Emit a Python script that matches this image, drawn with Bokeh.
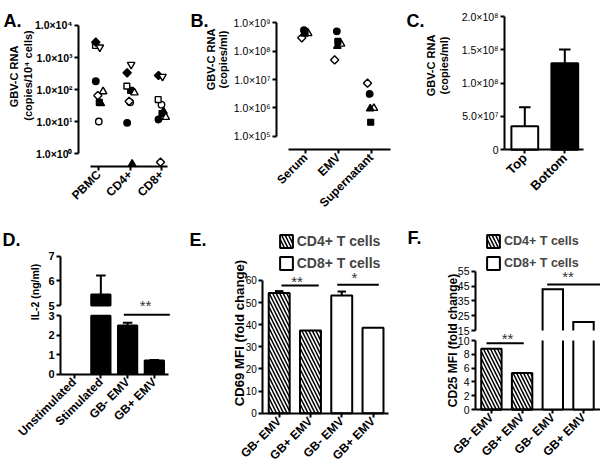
import math
from bokeh.plotting import figure
from bokeh.models import (Range1d, FixedTicker, Label, Legend, LegendItem, ColumnDataSource,
                          LinearAxis)
from bokeh.layouts import row, column
from bokeh.transform import dodge
from bokeh.embed import file_html
from bokeh.resources import INLINE

FONT = "Liberation Sans"

# ---------------- DATA ----------------
# A: GBV-C RNA (copies / 10^4 cells); one list per donor: PBMC, CD4+, CD8+
A_groups = ["PBMC", "CD4+", "CD8+"]
A_filled_circle = [183, 9.2, 11.7]
A_open_circle = [10.1, 40, 34]
A_filled_square = [40, 95, 18]
A_open_square = [2370, 128, 49]
A_filled_triangle = [37, 0.48, 21]
A_open_triangle = [87, 80, 13.8]
A_filled_diamond = [3000, 333, 275]
A_open_diamond = [65, 43, 0.55]
A_open_inv_triangle = [2090, 605, 256]
A_ticks = [1, 10, 100, 1000, 10000]
A_tick_labels = ["1.0×10⁰", "1.0×10¹", "1.0×10²", "1.0×10³", "1.0×10⁴"]

# B: GBV-C RNA (copies/ml); one list per donor: Serum, EMV, Supernatant
B_groups = ["Serum", "EMV", "Supernatant"]
B_filled_circle = [5.5e8, 5.0e8, 3.1e6]
B_filled_square = [4.9e8, 2.2e8, 3.1e5]
B_filled_triangle = [4.1e8, 1.5e8, 9.3e5]
B_open_triangle = [4.2e8, 1.8e8, 9.7e5]
B_open_diamond = [2.95e8, 4.9e7, 7.4e6]
B_ticks = [1e5, 1e6, 1e7, 1e8, 1e9]
B_tick_labels = ["1.0×10⁵", "1.0×10⁶", "1.0×10⁷", "1.0×10⁸", "1.0×10⁹"]

# C: GBV-C RNA (copies/ml)
C_groups = ["Top", "Bottom"]
C_mean = [3.55e7, 1.30e8]
C_err = [2.85e7, 2.05e7]
C_ticks = [0, 5e7, 1e8, 1.5e8, 2e8]
C_tick_labels = ["0", "5.0×10⁷", "1.0×10⁸", "1.5×10⁸", "2.0×10⁸"]

# D: IL-2 (ng/ml)
D_groups = ["Unstimulated", "Stimulated", "GB- EMV", "GB+ EMV"]
D_mean = [0.0, 5.44, 2.50, 0.70]
D_err = [0.0, 0.77, 0.14, 0.03]
D_ticks_low = [0, 1, 2, 3]
D_ticks_high = [5, 6, 7]

# E: CD69 MFI (fold change)
SERIES = ["CD4+ T cells", "CD8+ T cells"]
E_groups = ["GB- EMV", "GB+ EMV", "GB- EMV", "GB+ EMV"]
E_cd4 = [54.3, 37.4]
E_cd4_err = [0.9, 0.0]
E_cd8 = [53.2, 38.6]
E_cd8_err = [1.8, 0.0]
E_ticks = [0, 10, 20, 30, 40, 50, 60]

# F: CD25 MFI (fold change)
F_groups = ["GB- EMV", "GB+ EMV", "GB- EMV", "GB+ EMV"]
F_cd4 = [8.8, 5.3]
F_cd8 = [42.8, 20.8]
F_ticks_low = [0, 2, 4, 6, 8, 10]
F_ticks_high = [15, 25, 35, 45, 55]


# ---------------- HELPERS ----------------
LEG_SP = 6
LEG_H = 16 + LEG_SP + 16


class Panel:
    """A figure whose frame covers its whole canvas; axes sit at fixed locations."""

    def __init__(self, box, xa, ya, log=False):
        self.box = box
        self.xa, self.ya, self.log = xa, ya, log
        x0, y0, x1, y1 = box
        yr = (self.yv(y1), self.yv(y0))
        if log:
            yr = (10 ** yr[0], 10 ** yr[1])
        self.p = figure(width=x1 - x0, height=y1 - y0,
                        x_range=Range1d(self.xv(x0), self.xv(x1)), y_range=Range1d(*yr),
                        y_axis_type="log" if log else "linear",
                        min_border_left=0, min_border_right=0, min_border_top=0,
                        min_border_bottom=0, output_backend="svg",
                        toolbar_location=None, title=None)
        p = self.p
        p.outline_line_color = None
        p.xgrid.visible = False
        p.ygrid.visible = False
        p.background_fill_color = "white"
        p.border_fill_color = "white"

    def xv(self, px):
        a, v, k = self.xa
        return v + (px - a) / k

    def yv(self, py, ya=None):
        a, v, k = ya or self.ya
        return v - (py - a) / k

    def ydata(self, py):
        return 10 ** self.yv(py) if self.log else self.yv(py)

    def extra_range(self, name, ya):
        x0, y0, x1, y1 = self.box
        self.p.extra_y_ranges = {name: Range1d(self.yv(y1, ya), self.yv(y0, ya))}

    def text(self, rx, ry, text, size, bold=True, angle=0.0, align="left",
             baseline="alphabetic", color="black"):
        x0, y0, x1, y1 = self.box
        self.p.add_layout(Label(x=rx - x0, y=y1 - ry, x_units="screen", y_units="screen",
                                text=text, angle=angle, text_align=align,
                                text_baseline=baseline, text_font=FONT,
                                text_font_size=f"{size}px",
                                text_font_style="bold" if bold else "normal",
                                text_color=color))

    def vtitle(self, rx, ry, text, size):
        self.text(rx, ry, text, size, angle=math.pi / 2, align="center", baseline="middle")

    def stars(self, cx, cy, text, size=15):
        # cx, cy: where the asterisks should appear (reference px)
        self.text(cx, cy + 0.1 * size, text, size, bold=False, align="center", color="#333333")

    def legend(self, renderers, left, top, size):
        x0, y0, x1, y1 = self.box
        leg = Legend(items=[LegendItem(label=SERIES[0], renderers=[renderers[0]]),
                            LegendItem(label=SERIES[1], renderers=[renderers[1]])],
                     location=(left - x0, y1 - top - LEG_H),
                     glyph_width=16, glyph_height=16, label_height=16, label_standoff=3,
                     spacing=LEG_SP, padding=0, margin=0, border_line_color=None,
                     background_fill_alpha=0, label_text_font=FONT,
                     label_text_font_size=f"{size}px", label_text_font_style="bold")
        self.p.add_layout(leg)


def style_axis(ax, ticks, labels, size, bold, location, bounds=None, orient=None, standoff=2):
    ax.fixed_location = location
    ax.ticker = FixedTicker(ticks=list(ticks), minor_ticks=[])
    ax.major_label_overrides = {t: l for t, l in zip(ticks, labels)}
    ax.axis_line_width = 2
    ax.axis_line_color = "black"
    ax.major_tick_line_width = 2
    ax.major_tick_line_color = "black"
    ax.major_tick_out = 4
    ax.major_tick_in = 0
    ax.minor_tick_line_color = None
    ax.major_label_text_font = FONT
    ax.major_label_text_font_size = f"{size}px"
    ax.major_label_text_font_style = "bold" if bold else "normal"
    ax.major_label_text_color = "black"
    ax.major_label_standoff = standoff
    if bounds is not None:
        ax.bounds = bounds
    if orient is not None:
        ax.major_label_orientation = orient


def error_bars(p, xs, tops, errs, cap, **kw):
    keep = [i for i, e in enumerate(errs) if e > 0]
    if not keep:
        return
    xe = [xs[i] for i in keep]
    lo = [tops[i] for i in keep]
    hi = [tops[i] + errs[i] for i in keep]
    p.segment(x0=xe, y0=lo, x1=xe, y1=hi, line_color="black", line_width=2, **kw)
    p.scatter(x=xe, y=hi, marker="dash", size=cap, line_color="black", line_width=2, **kw)


def sig_line(p, x0, x1, y, **kw):
    p.segment(x0=[x0], y0=[y], x1=[x1], y1=[y], line_color="black", line_width=2, **kw)


def broken_bars(p, xs, vals, width, lo_brk, hi_brk, fill, hatch=None):
    """Bars on a broken axis: the part below lo_brk on the main range, the part
    above hi_brk on the 'hi' range; no edge is drawn at the break.
    Returns a renderer with the full bar style for the legend (its bars have
    zero height and lie on the baseline, under the x axis line)."""
    hatch = hatch or {}
    style = dict(width=width, fill_color=fill, **hatch)
    full = [i for i, v in enumerate(vals) if 0 < v <= lo_brk]
    brk = [i for i, v in enumerate(vals) if v > lo_brk]
    proxy = p.vbar(x=list(xs), top=0, bottom=0, line_color="black", line_width=2, **style)
    if full:
        p.vbar(x=[xs[i] for i in full], top=[vals[i] for i in full], bottom=0,
               line_color="black", line_width=2, **style)
    if brk:
        bx = [xs[i] for i in brk]
        bv = [vals[i] for i in brk]
        p.vbar(x=bx, top=lo_brk, bottom=0, line_color=None, **style)
        p.vbar(x=bx, top=bv, bottom=hi_brk, line_color=None, y_range_name="hi", **style)
        lx, ly, ux, uy = [], [], [], []
        for x, v in zip(bx, bv):
            xl, xr = x - width / 2, x + width / 2
            lx += [[xl, xl], [xr, xr]]
            ly += [[0, lo_brk], [0, lo_brk]]
            ux.append([xl, xl, xr, xr])
            uy.append([hi_brk, v, v, hi_brk])
        p.multi_line(xs=lx, ys=ly, line_color="black", line_width=2)
        p.multi_line(xs=ux, ys=uy, line_color="black", line_width=2,
                     line_join="miter", y_range_name="hi")
    return proxy


MARKER_SIZE = {"circle": 6.5, "square": 5.8, "triangle": 7.5, "inverted_triangle": 7.5}
ROT = math.pi / 4
DIAG = math.pi / 4


def scatter_series(p, series, pitch):
    for vals, marker, filled, ang, off in series:
        src = ColumnDataSource(dict(x=list(range(1, len(vals) + 1)), y=vals))
        p.scatter(x=dodge("x", off / pitch, range=p.x_range), y="y", source=src,
                  marker=marker, size=MARKER_SIZE[marker], angle=ang,
                  fill_color="black" if filled else "white",
                  line_color="black", line_width=1.4)


TITLE_TOP = 11

# ---------------- PANEL A ----------------
A_pitch = 31.35
A = Panel((0, 0, 186, 216), (98.3, 1, A_pitch), (153.3, 0, 32.1), log=True)
pa = A.p
scatter_series(pa, [
    (A_filled_circle, "circle", True, 0, -3.0),
    (A_open_circle, "circle", False, 0, 0.0),
    (A_filled_square, "square", True, 0, 0.5),
    (A_open_square, "square", False, 0, -3.3),
    (A_filled_triangle, "triangle", True, 0, 2.0),
    (A_open_triangle, "triangle", False, 0, 4.3),
    (A_filled_diamond, "square", True, DIAG, -3.0),
    (A_open_diamond, "square", False, DIAG, -1.0),
    (A_open_inv_triangle, "inverted_triangle", False, 0, 1.0),
], A_pitch)
style_axis(pa.yaxis[0], A_ticks, A_tick_labels, 10.5, True, A.xv(78),
           bounds=(A_ticks[0], A_ticks[-1]))
style_axis(pa.xaxis[0], [1, 2, 3], A_groups, 12, True, A.ydata(166),
           bounds=(A.xv(90), A.xv(167)), orient=ROT)
A.text(3, 20.7, "A.", 18)
A.vtitle(13, 76, "GBV-C RNA", TITLE_TOP)
A.vtitle(27, 75, "(copies/10⁴ cells)", TITLE_TOP)

# ---------------- PANEL B ----------------
B_pitch = 32.85
B = Panel((186, 0, 398, 216), (305, 1, B_pitch), (135.7, 5, 28.35), log=True)
pb = B.p
scatter_series(pb, [
    (B_open_diamond, "square", False, DIAG, -3.7),
    (B_open_triangle, "triangle", False, 0, 2.7),
    (B_filled_circle, "circle", True, 0, -1.5),
    (B_filled_square, "square", True, 0, -0.5),
    (B_filled_triangle, "triangle", True, 0, -1.0),
], B_pitch)
style_axis(pb.yaxis[0], B_ticks, B_tick_labels, 10.5, False, B.xv(276),
           bounds=(B_ticks[0], B_ticks[-1]))
style_axis(pb.xaxis[0], [1, 2, 3], B_groups, 12, True, B.ydata(149),
           bounds=(B.xv(288.3), B.xv(390)), orient=ROT)
B.text(190, 20.3, "B.", 18)
B.vtitle(210, 59, "GBV-C RNA", TITLE_TOP)
B.vtitle(222.5, 59, "(copies/ml)", TITLE_TOP)

# ---------------- PANEL C ----------------
C = Panel((398, 0, 600, 216), (524.3, 1, 40.0), (149.3, 0, 133.3 / 2e8))
pc = C.p
cx = list(range(1, len(C_groups) + 1))
pc.vbar(x=cx, top=C_mean, width=0.67, bottom=0, fill_color=["white", "black"],
        line_color="black", line_width=2)
error_bars(pc, cx, C_mean, C_err, 11.5)
style_axis(pc.yaxis[0], C_ticks, C_tick_labels, 10.5, False, C.xv(504),
           bounds=(0, C_ticks[-1]))
style_axis(pc.xaxis[0], cx, C_groups, 13, True, 0, bounds=(C.xv(504), C.xv(583)), orient=ROT)
C.text(406, 20.3, "C.", 18)
C.vtitle(430.5, 65, "GBV-C RNA", TITLE_TOP)
C.vtitle(443, 65, "(copies/ml)", TITLE_TOP)

# ---------------- PANEL D (broken axis) ----------------
D = Panel((0, 216, 172, 465), (73.6, 1, 26.75), (373.6, 0, 19.43))
D.extra_range("hi", (305, 5, 24.75))
pd = D.p
dx = list(range(1, len(D_groups) + 1))
D_brk_lo, D_brk_hi = D_ticks_low[-1], D_ticks_high[0]
low_i = [i for i, v in enumerate(D_mean) if v > 0]
pd.vbar(x=[dx[i] for i in low_i], top=[min(D_mean[i], D_brk_lo) for i in low_i], bottom=0,
        width=0.72, fill_color="black", line_color="black", line_width=2)
hi_i = [i for i, v in enumerate(D_mean) if v > D_brk_hi]
pd.vbar(x=[dx[i] for i in hi_i], top=[D_mean[i] for i in hi_i], bottom=D_brk_hi,
        width=0.72, fill_color="black", line_color="black", line_width=2, y_range_name="hi")
err_lo = [i for i in low_i if D_mean[i] <= D_brk_lo]
error_bars(pd, [dx[i] for i in err_lo], [D_mean[i] for i in err_lo], [D_err[i] for i in err_lo], 9.5)
error_bars(pd, [dx[i] for i in hi_i], [D_mean[i] for i in hi_i], [D_err[i] for i in hi_i], 9.5,
           y_range_name="hi")
style_axis(pd.yaxis[0], D_ticks_low, [str(t) for t in D_ticks_low], 11, True, D.xv(60),
           bounds=(D_ticks_low[0], D_ticks_low[-1]))
ax_hi = LinearAxis(y_range_name="hi")
pd.add_layout(ax_hi, "left")
style_axis(ax_hi, D_ticks_high, [str(t) for t in D_ticks_high], 11, True, D.xv(60),
           bounds=(D_ticks_high[0], D_ticks_high[-1]))
style_axis(pd.xaxis[0], dx, D_groups, 12, True, 0, bounds=(D.xv(60), D.xv(168)), orient=ROT)
sig_line(pd, D.xv(123.3), D.xv(169.3), D.yv(314.3))
D.stars(145, 303.3, "**")
D.text(2, 239, "D.", 18)
D.vtitle(34, 291.5, "IL-2 (ng/ml)", 10.5)

# ---------------- PANEL E ----------------
E = Panel((172, 216, 390, 465), (278.7, 1, 31.27), (412.7, 0, 2.2117))
pe = E.p
ex4 = list(range(1, len(E_cd4) + 1))
ex8 = list(range(len(E_cd4) + 1, len(E_cd4) + len(E_cd8) + 1))
HATCH = dict(hatch_pattern="left_diagonal_line", hatch_color="black", hatch_weight=1.5,
             hatch_scale=7)
r4 = pe.vbar(x=ex4, top=E_cd4, bottom=0, width=0.67, fill_color="white",
             line_color="black", line_width=2, **HATCH)
r8 = pe.vbar(x=ex8, top=E_cd8, bottom=0, width=0.67, fill_color="white",
             line_color="black", line_width=2)
error_bars(pe, ex4, E_cd4, E_cd4_err, 8.5)
error_bars(pe, ex8, E_cd8, E_cd8_err, 8.5)
style_axis(pe.yaxis[0], E_ticks, [str(t) for t in E_ticks], 10, False, E.xv(262.3),
           bounds=(0, E_ticks[-1]))
style_axis(pe.xaxis[0], ex4 + ex8, E_groups, 12, True, 0,
           bounds=(E.xv(262.3), E.xv(388)), orient=ROT)
sig_line(pe, E.xv(281), E.xv(318.3), E.yv(285))
sig_line(pe, E.xv(336.7), E.xv(378.3), E.yv(284.3))
E.stars(296.6, 279, "**")
E.stars(353.8, 275.7, "*")
E.legend([r4, r8], 277.7, 233, 14)
E.vtitle(239, 332.5, "CD69 MFI (fold change)", 13.2)
E.text(189, 239, "E.", 18)

# ---------------- PANEL F (broken axis) ----------------
F = Panel((390, 216, 600, 465), (490.9, 1, 30.7), (409, 0, 6.9))
F.extra_range("hi", (330, 15, 1.4825))
pf = F.p
fx4 = list(range(1, len(F_cd4) + 1))
fx8 = list(range(len(F_cd4) + 1, len(F_cd4) + len(F_cd8) + 1))
F_brk_lo, F_brk_hi = F_ticks_low[-1], F_ticks_high[0]
rf4 = broken_bars(pf, fx4, F_cd4, 0.665, F_brk_lo, F_brk_hi, "white", HATCH)
rf8 = broken_bars(pf, fx8, F_cd8, 0.665, F_brk_lo, F_brk_hi, "white")
style_axis(pf.yaxis[0], F_ticks_low, [str(t) for t in F_ticks_low], 10.5, False, F.xv(475),
           bounds=(F_ticks_low[0], F_ticks_low[-1]))
fax_hi = LinearAxis(y_range_name="hi")
pf.add_layout(fax_hi, "left")
style_axis(fax_hi, F_ticks_high, [str(t) for t in F_ticks_high], 10.5, False, F.xv(475),
           bounds=(F_ticks_high[0], F_ticks_high[-1]))
style_axis(pf.xaxis[0], fx4 + fx8, F_groups, 12, True, 0,
           bounds=(F.xv(475), F.xv(600)), orient=ROT)
sig_line(pf, F.xv(486), F.xv(523.3), F.yv(342.7))
sig_line(pf, F.xv(546.7), F.xv(600), F.yv(284, (330, 15, 1.4825)), y_range_name="hi")
F.stars(507, 336, "**")
F.stars(567.5, 274.5, "**")
F.legend([rf4, rf8], 485, 233, 12.5)
F.vtitle(452.5, 340, "CD25 MFI (fold change)", 12)
F.text(407, 237, "F.", 18)

# ---------------- ASSEMBLE ----------------
layout = column(row(A.p, B.p, C.p), row(D.p, E.p, F.p))

open("out.html", "w").write(file_html(layout, INLINE))
